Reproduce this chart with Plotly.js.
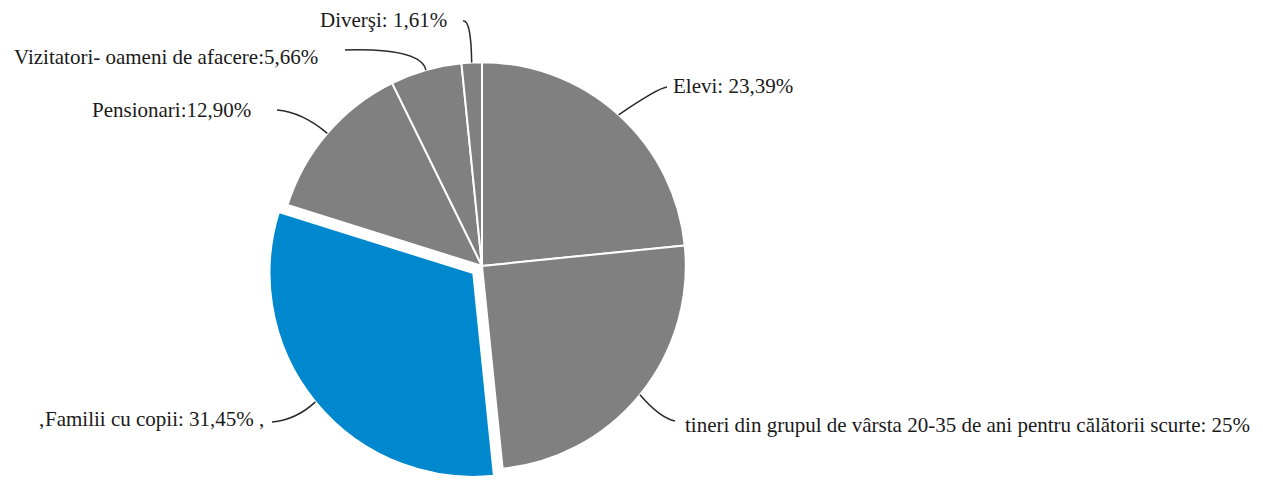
<!DOCTYPE html>
<html>
<head>
<meta charset="utf-8">
<script src="https://cdn.plot.ly/plotly-3.0.1.min.js"></script>
<style>html,body{margin:0;padding:0;background:#fff;overflow:hidden}</style>
</head>
<body>
<div id="chart" style="width:1263px;height:481px"></div>
<script>
// ---- data ----
const categories = ["Elevi", "tineri din grupul de vârsta 20-35 de ani pentru călătorii scurte", "Familii cu copii", "Pensionari", "Vizitatori- oameni de afacere", "Diverşi"];
const values = [23.39, 25, 31.45, 12.90, 5.66, 1.61];
const labelTexts = ["Elevi: 23,39%", "tineri din grupul de vârsta 20-35 de ani pentru călătorii scurte: 25%", "‚Familii cu copii: 31,45% ,", "Pensionari:12,90%", "Vizitatori- oameni de afacere:5,66%", "Diverşi: 1,61%"];
const colors = ["#808080", "#808080", "#0088cf", "#808080", "#808080", "#808080"];
const pulls = [0, 0, 0.055, 0, 0, 0];

// ---- layout constants ----
const W = 1263, H = 481;
const CX = 482, CY = 266, HALF = 215;
const maxPull = Math.max(...pulls);
const R = HALF / (1 + maxPull);
const domX = [(CX - 240) / W, (CX + 240) / W];
const domY = [0, 1 - (CY - HALF) / H];

// label text anchor (left x, middle y) and leader-line start / bend in px
const labelPos = [
  {x: 671, y: 86, start: [667, 87], ctrl: [658, 88]},
  {x: 683, y: 425, start: [675, 421], ctrl: [660, 418]},
  {x: 36, y: 419, start: [272, 422], ctrl: [296, 420]},
  {x: 90, y: 110, start: [277, 110], ctrl: [302, 112]},
  {x: 12, y: 57, start: [345, 50], ctrl: [421, 48]},
  {x: 318, y: 20, start: [463, 21], ctrl: [471, 19]}
];

const total = values.reduce((a, b) => a + b, 0);
let cum = 0;
const tips = values.map((v, i) => {
  const m = (cum + v / 2) / total; cum += v;
  const th = m * 2 * Math.PI;
  const rr = R * (1 + pulls[i]);
  return [CX + rr * Math.sin(th), CY - rr * Math.cos(th)];
});

const P = (x, y) => (x / W).toFixed(5) + "," + (1 - y / H).toFixed(5);
const shapes = tips.map((t, i) => {
  const lp = labelPos[i];
  return {
    type: "path", xref: "paper", yref: "paper",
    path: "M" + P(lp.start[0], lp.start[1]) + " Q" + P(lp.ctrl[0], lp.ctrl[1]) + " " + P(t[0], t[1]),
    line: {color: "#2a2a2a", width: 1.5}
  };
});
const annotations = labelTexts.map((txt, i) => ({
  xref: "paper", yref: "paper",
  x: labelPos[i].x / W, y: 1 - labelPos[i].y / H,
  xanchor: "left", yanchor: "middle",
  text: txt, showarrow: false,
  font: {family: '"Liberation Serif", serif', size: 21, color: "#1a1a1a"}
}));

const trace = {
  type: "pie",
  labels: categories,
  values: values,
  sort: false,
  direction: "clockwise",
  rotation: 0,
  pull: pulls,
  marker: {colors: colors, line: {color: "#ffffff", width: 2}},
  textinfo: "none",
  hoverinfo: "label+percent",
  domain: {x: domX, y: domY}
};

Plotly.newPlot("chart", [trace], {
  width: W, height: H,
  margin: {l: 0, r: 0, t: 0, b: 0},
  paper_bgcolor: "#ffffff",
  showlegend: false,
  shapes: shapes,
  annotations: annotations
}, {displayModeBar: false, staticPlot: true});
</script>
</body>
</html>
